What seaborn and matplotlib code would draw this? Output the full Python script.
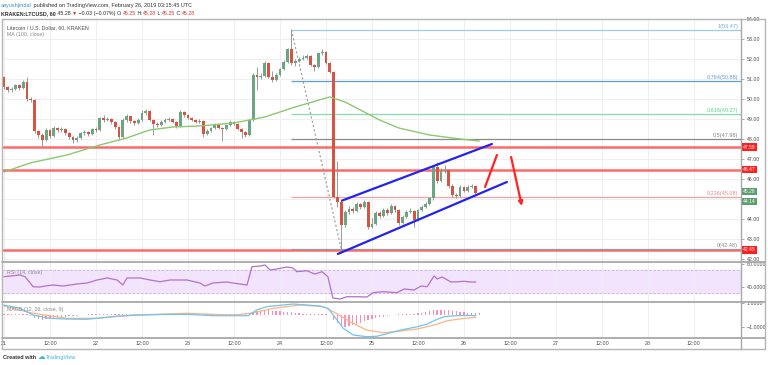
import numpy as np
import pandas as pd
import matplotlib
matplotlib.use("Agg")
import matplotlib.pyplot as plt
import seaborn as sns

# ==========================================================
# Data (hourly candles from Feb 21 00:00)
# ==========================================================

first_open = 51.10

closes = [
    50.60, 50.45, 50.50, 50.70, 50.55, 50.85, 50.00, 49.95, 48.40, 48.20,
    47.95, 48.45, 48.15, 48.55, 48.45, 48.50, 48.30, 48.10, 47.95, 48.05,
    48.30, 48.35, 48.25, 48.50, 48.45, 49.05, 48.95, 49.00, 48.85, 48.60,
    48.10, 48.95, 49.15, 48.90, 48.80, 48.95, 49.30, 49.40, 48.95, 48.75,
    48.70, 48.85, 48.95, 49.00, 48.85, 48.65, 49.35, 49.20, 49.05, 48.95,
    48.85, 48.90, 48.25, 48.40, 48.55, 48.70, 48.55, 48.50, 48.70, 48.85,
    48.75, 48.50, 48.35, 48.20, 48.95, 51.20, 51.10, 51.15, 51.80, 51.10,
    50.95, 51.20, 51.50, 51.85, 52.50, 51.80, 51.90, 52.00, 52.05, 52.15,
    51.70, 51.60, 52.30, 52.35, 51.80, 51.35, 45.10, 44.85, 43.70, 44.35,
    44.50, 44.40, 44.75, 44.60, 44.85, 43.60, 43.75, 44.30, 44.15, 44.45,
    44.30, 44.65, 44.45, 43.80, 44.10, 44.35, 44.40, 43.95, 44.45, 44.60,
    44.75, 45.05, 46.60, 45.90, 46.40, 46.45, 45.65, 45.20, 45.15, 45.60,
    45.40, 45.60, 45.65, 45.30, 45.28,
]

highs = [
    51.15, 50.65, 50.60, 50.75, 50.75, 50.95, 51.10, 50.10, 50.00, 48.45,
    48.30, 48.55, 48.50, 48.65, 48.60, 48.60, 48.55, 48.35, 48.15, 48.15,
    48.35, 48.45, 48.40, 48.55, 48.60, 49.10, 49.20, 49.10, 49.05, 48.90,
    48.65, 49.05, 49.25, 49.15, 48.95, 49.05, 49.45, 49.50, 49.45, 49.00,
    48.85, 48.95, 49.05, 49.10, 49.05, 48.90, 49.45, 49.40, 49.25, 49.10,
    49.00, 49.00, 48.95, 48.50, 48.60, 48.80, 48.75, 48.60, 48.75, 48.95,
    48.90, 48.80, 48.55, 48.40, 49.00, 51.30, 51.60, 51.30, 51.90, 51.85,
    51.40, 51.30, 51.55, 51.95, 52.55, 53.47, 52.00, 52.10, 52.20, 52.25,
    52.20, 51.75, 52.35, 52.50, 52.40, 51.85, 51.40, 46.90, 44.95, 44.45,
    44.65, 44.60, 44.85, 44.80, 44.95, 44.90, 44.05, 44.40, 44.40, 44.55,
    44.55, 44.75, 44.70, 44.50, 44.20, 44.45, 44.55, 44.45, 44.50, 44.70,
    44.85, 45.10, 46.70, 46.85, 46.55, 46.70, 46.50, 45.75, 45.30, 45.70,
    45.65, 45.70, 45.75, 45.70, 45.30,
]

lows = [
    50.50, 50.35, 50.35, 50.45, 50.45, 50.50, 49.90, 49.85, 48.30, 48.05,
    47.65, 47.90, 48.05, 48.10, 48.35, 48.35, 48.20, 48.00, 47.80, 47.85,
    48.00, 48.20, 48.15, 48.20, 48.35, 48.40, 48.85, 48.90, 48.75, 48.50,
    47.95, 48.05, 48.85, 48.80, 48.70, 48.75, 48.90, 49.20, 48.90, 48.20,
    48.60, 48.65, 48.80, 48.90, 48.80, 48.55, 48.60, 49.10, 49.00, 48.90,
    48.80, 48.80, 48.10, 48.20, 48.35, 48.50, 48.50, 47.90, 48.45, 48.65,
    48.70, 48.45, 48.05, 48.10, 48.15, 48.90, 50.45, 51.00, 51.10, 51.05,
    50.85, 50.90, 51.15, 51.45, 51.80, 51.70, 51.65, 51.85, 51.95, 52.00,
    51.65, 51.40, 51.55, 52.20, 51.75, 51.30, 45.05, 44.60, 42.48, 43.60,
    44.25, 44.30, 44.35, 44.50, 44.55, 43.50, 43.55, 43.70, 44.05, 44.10,
    44.20, 44.25, 44.35, 43.70, 43.75, 44.05, 44.30, 43.60, 43.90, 44.40,
    44.55, 44.70, 44.95, 45.80, 45.85, 46.30, 45.55, 45.10, 45.05, 45.10,
    45.35, 45.35, 45.55, 45.25, 45.25,
]

ma_hours = [0, 6.8, 16.4, 25, 32, 38, 44, 51, 60, 68, 76, 84, 85, 89, 93,
            98, 103, 111, 119, 124]
ma_values = [46.35, 46.80, 47.20, 47.70, 48.05, 48.45, 48.60, 48.65, 48.80,
             49.10, 49.60, 50.05, 50.10, 49.85, 49.45, 48.95, 48.55, 48.20,
             48.00, 47.90]

rsi_hours = [0, 4.2, 5.5, 7.6, 9.4, 10.7, 12.8, 15.4, 19, 21.7, 24.3, 26.9,
             29.5, 31, 32.1, 35.5, 38.1, 40.7, 43.3, 47.7, 51.1, 52.4, 54.5,
             58.2, 59.7, 63.4, 64.7, 66.8, 68.1, 69.4, 71.2, 73.8, 75.4, 76.4,
             79, 81.1, 83, 84.5, 85.8, 87.7, 89.5, 92.1, 94.7, 96.3, 98.9,
             102.5, 104.4, 107, 108.8, 110.4, 112.2, 113, 114.3, 116.6, 118.7,
             120, 121.8, 123.1]
rsi_values = [57.9, 60.9, 57.9, 40.5, 40.0, 41.7, 43.5, 41.7, 45.2, 47.0,
              52.2, 55.7, 52.2, 43.5, 55.7, 55.7, 52.2, 49.2, 52.2, 52.2,
              47.0, 41.7, 47.0, 48.7, 47.0, 43.5, 75.3, 76.5, 78.3, 69.6,
              71.3, 74.8, 73.0, 66.6, 68.3, 62.6, 66.6, 57.9, 20.9, 19.1,
              23.1, 23.1, 22.6, 30.1, 31.8, 30.1, 36.5, 34.8, 41.7, 40.5,
              59.1, 53.9, 57.4, 48.7, 49.2, 50.0, 48.7, 48.7]

macd_hours = [0, 4.2, 7.6, 12, 16.3, 21.6, 24.2, 29.4, 35.5, 42.4, 47.7,
              54.6, 59.8, 63.7, 65.9, 68.5, 72.8, 75.5, 79, 82.4, 84.6, 85.9,
              88.5, 91.1, 94.6, 97.2, 99.1, 103.5, 107.8, 110.4, 113, 114.8,
              116.5, 120, 123.1]
macd_values = [0.81, 0.53, -0.03, -0.30, -0.36, -0.38, -0.30, -0.12, -0.03,
               0.03, 0.03, -0.08, -0.08, -0.08, 0.39, 0.67, 0.81, 0.89, 0.81,
               0.73, 0.53, -0.03, -1.13, -1.69, -1.83, -1.80, -1.65, -1.28,
               -1.00, -0.78, -0.38, -0.17, -0.11, -0.06, -0.08]

signal_hours = [0, 7.6, 16.3, 24.2, 33.7, 47.7, 59.8, 64.2, 70.2, 77.2, 83.3,
                85.9, 90.3, 94.6, 99.1, 103.5, 107.8, 112.2, 115.7, 120, 123.1]
signal_values = [0.73, 0.12, -0.30, -0.30, -0.03, 0.12, -0.03, 0.12, 0.53,
                 0.81, 0.67, 0.25, -0.58, -1.28, -1.50, -1.36, -1.19, -0.86,
                 -0.50, -0.30, -0.22]

hist_values = [
    0.05, 0.05, 0.04, 0.04, 0.03, 0.03, 0.02, -0.10, -0.25, -0.35,
    -0.40, -0.38, -0.32, -0.28, -0.22, -0.18, -0.15, -0.12, -0.10, -0.08,
    -0.05, -0.03, 0.02, 0.03, 0.04, 0.04, 0.03, 0.03, 0.02, 0.02,
    0.02, 0.02, 0.02, 0.02, 0.02, 0.02, 0.02, 0.02, 0.02, 0.02,
    0.02, 0.02, 0.02, 0.02, 0.02, 0.02, 0.02, 0.02, 0.02, 0.02,
    0.02, 0.02, 0.02, 0.02, 0.02, 0.02, 0.02, 0.02, 0.02, 0.02,
    0.02, 0.02, 0.02, 0.02, 0.05, 0.20, 0.30, 0.35, 0.40, 0.38,
    0.35, 0.30, 0.28, 0.25, 0.22, 0.20, 0.15, 0.12, 0.10, 0.08,
    0.05, 0.03, 0.03, 0.02, 0.02, -0.05, -0.40, -0.70, -0.95, -1.00,
    -0.95, -0.85, -0.75, -0.65, -0.55, -0.45, -0.38, -0.30, -0.22, -0.15,
    -0.10, -0.06, -0.03, 0.02, 0.03, 0.05, 0.08, 0.10, 0.12, 0.15,
    0.20, 0.28, 0.38, 0.42, 0.42, 0.40, 0.36, 0.32, 0.27, 0.23,
    0.20, 0.17, 0.15, 0.13, 0.12,
]

fib_levels = [1, 0.764, 0.618, 0.5, 0.236, 0]
fib_prices = [53.47, 50.88, 49.27, 47.98, 45.08, 42.48]
fib_colors = ["#9fcbe6", "#5f9fd6", "#86dcae", "#8a8a8a", "#f2a2a2", "#9a9a9a"]
fib_text_colors = ["#6fb0da", "#5f9fd6", "#5fcf93", "#8a7f8a", "#e98888", "#8a8a8a"]

sr_levels = [47.59, 46.47, 42.45]

price_ticks = [42, 43, 44, 45, 46, 47, 48, 49, 50, 51, 52, 53, 54]
hidden_price_ticks = [45]  # sits under the last-price tags
time_ticks = [0, 12, 24, 36, 48, 60, 72, 84, 96, 108, 120, 132, 144, 156, 168, 180]
time_labels = ["21", "12:00", "22", "12:00", "23", "12:00", "24", "12:00",
               "25", "12:00", "26", "12:00", "27", "12:00", "28", "12:00"]

# channel, swing and arrow points (hour, price)
upper_channel = ([88.2, 127.3], [44.92, 47.75])
lower_channel = ([87.1, 131.2], [42.25, 45.85])
fib_swing = ([75, 88], [53.47, 42.48])
arrow_up = ([125.5, 128.6], [45.6, 47.2])
arrow_down = ((132.3, 47.1), (135.1, 44.65))

# ==========================================================
# Style
# ==========================================================

sns.set_theme(style="white")
plt.rcParams["font.family"] = ["Liberation Sans", "DejaVu Sans"]

GREEN = "#6ba583"
RED = "#d75442"
GRID = "#efefef"
TXT = "#4d4d4d"
XMIN, XMAX = -0.26, 192.28

fig = plt.figure(figsize=(7.68, 3.65), dpi=100)
fig.patch.set_facecolor("white")

W, H = 768.0, 365.0


def px_axes(x0, y0, x1, y1):
    return fig.add_axes([x0 / W, 1 - y1 / H, (x1 - x0) / W, (y1 - y0) / H])


ax = px_axes(3, 19, 741, 262)
ax_rsi = px_axes(3, 262, 741, 302)
ax_macd = px_axes(3, 302, 741, 338)

for a in (ax, ax_rsi, ax_macd):
    a.set_xlim(XMIN, XMAX)
    for s in a.spines.values():
        s.set_visible(False)
    a.set_xticks(time_ticks)
    a.grid(True, axis="x", color=GRID, lw=0.7)
    a.yaxis.tick_right()
    a.tick_params(axis="y", which="both", length=2, width=0.5, color="#888888",
                  labelsize=3.8, labelcolor=TXT, pad=2)
    a.tick_params(axis="x", length=0, labelbottom=False)
    a.set_axisbelow(True)

# ==========================================================
# Main price panel
# ==========================================================

candles = pd.DataFrame({
    "hour": np.arange(len(closes)),
    "open": [first_open] + closes[:-1],
    "close": closes,
    "high": highs,
    "low": lows,
})
up = candles["close"] >= candles["open"]
body_low = candles[["open", "close"]].min(axis=1)
body_h = (candles["close"] - candles["open"]).abs().clip(lower=0.03)

ax.set_ylim(41.85, 54.0)
ax.set_yticks(price_ticks)
ax.set_yticklabels(["" if p in hidden_price_ticks else f"{p:.2f}" for p in price_ticks])
ax.grid(True, axis="y", color=GRID, lw=0.7)

ax.vlines(candles["hour"], candles["low"], candles["high"], color="#8a8a8a", lw=0.6, zorder=3)
ax.bar(candles["hour"], body_h, bottom=body_low, width=0.72,
       color=np.where(up, GREEN, RED), lw=0, zorder=4)

ma_df = pd.DataFrame({"hour": ma_hours, "ma": ma_values})
sns.lineplot(data=ma_df, x="hour", y="ma", ax=ax, color="#8cc870", lw=1.0, zorder=5)

# support / resistance lines
for lvl in sr_levels:
    ax.axhline(lvl, color="#ff4f4f", lw=1.8, alpha=0.85, zorder=2)

# fibonacci retracement
for lvl, price, col, tcol in zip(fib_levels, fib_prices, fib_colors, fib_text_colors):
    ax.hlines(price, fib_swing[0][0], XMAX, color=col, lw=0.9, zorder=2)
    ax.text(0.996, price + 0.05, f"{lvl}({price:.2f})", transform=ax.get_yaxis_transform(),
            ha="right", va="bottom", fontsize=4.0, color=tcol)
ax.plot(fib_swing[0], fib_swing[1], color="#9a9a9a", lw=0.8, ls=(0, (2, 2)), zorder=3)

# channel
ax.plot(*upper_channel, color="#2323f0", lw=1.6, zorder=6)
ax.plot(*lower_channel, color="#2323f0", lw=1.6, zorder=6)

# arrows
ax.plot(*arrow_up, color="#ff2424", lw=1.6, zorder=6)
ax.annotate("", xy=arrow_down[1], xytext=arrow_down[0],
            arrowprops=dict(arrowstyle="-|>", color="#ff2424", lw=1.6,
                            mutation_scale=6, shrinkA=0, shrinkB=0), zorder=6)

ax.set_xlabel("")
ax.set_ylabel("")

# price tags on the scale
tag_style = dict(transform=ax.get_yaxis_transform(), ha="left", va="center",
                 fontsize=3.6, color="white", clip_on=False, zorder=20)
for lvl in sr_levels:
    ax.text(1.003, lvl, f"{lvl:.2f}", bbox=dict(boxstyle="square,pad=0.25",
            fc="#ff1f1f", ec="none"), **tag_style)
ax.text(1.003, 45.36, "45.28", bbox=dict(boxstyle="square,pad=0.2", fc="#5d9c6c", ec="none"), **tag_style)
ax.text(1.003, 44.86, "44:14", bbox=dict(boxstyle="square,pad=0.2", fc="#5d9c6c", ec="none"), **tag_style)

ax.text(0.006, 0.975, "Litecoin / U.S. Dollar, 60, KRAKEN", transform=ax.transAxes,
        fontsize=3.8, color=TXT, va="top")
ax.text(0.006, 0.945, "MA (100, close)", transform=ax.transAxes,
        fontsize=3.8, color="#8a8a8a", va="top")

# ==========================================================
# RSI panel
# ==========================================================

ax_rsi.set_ylim(13.9, 83.5)
ax_rsi.axhspan(30, 70, color="#f2e4fc", zorder=0)
ax_rsi.axhline(70, color="#c7b5d6", lw=0.6, ls=(0, (3, 2)))
ax_rsi.axhline(30, color="#c7b5d6", lw=0.6, ls=(0, (3, 2)))
rsi_df = pd.DataFrame({"hour": rsi_hours, "rsi": rsi_values})
sns.lineplot(data=rsi_df, x="hour", y="rsi", ax=ax_rsi, color="#b46fd0", lw=0.9)
ax_rsi.set_yticks([40, 80])
ax_rsi.set_yticklabels(["40.0000", "80.0000"])
ax_rsi.set_xlabel("")
ax_rsi.set_ylabel("")
ax_rsi.text(0.006, 0.8, "RSI (14, close)", transform=ax_rsi.transAxes,
            fontsize=3.8, color="#8a8a8a", va="top")

# ==========================================================
# MACD panel
# ==========================================================

ax_macd.set_ylim(-1.94, 1.06)
ax_macd.bar(np.arange(len(hist_values)), hist_values, width=0.35, color="#f78fb8", lw=0)
macd_df = pd.DataFrame({"hour": macd_hours, "macd": macd_values})
sig_df = pd.DataFrame({"hour": signal_hours, "signal": signal_values})
sns.lineplot(data=sig_df, x="hour", y="signal", ax=ax_macd, color="#ffb381", lw=0.9)
sns.lineplot(data=macd_df, x="hour", y="macd", ax=ax_macd, color="#6cc6f4", lw=0.9)
ax_macd.set_yticks([1, -1])
ax_macd.set_yticklabels(["1.0000", "\u22121.0000"])
ax_macd.set_xlabel("")
ax_macd.set_ylabel("")
ax_macd.tick_params(axis="x", labelbottom=True, labelsize=3.9, labelcolor=TXT, pad=2.5)
ax_macd.set_xticklabels(time_labels)
ax_macd.text(0.006, 0.85, "MACD (12, 26, close, 9)", transform=ax_macd.transAxes,
             fontsize=3.8, color="#8a8a8a", va="top")

# ==========================================================
# Frame, header, footer (pixel overlay)
# ==========================================================

ov = fig.add_axes([0, 0, 1, 1], zorder=10)
ov.set_xlim(0, W)
ov.set_ylim(H, 0)
ov.axis("off")
ov.patch.set_alpha(0)

frame = "#b5b5b5"
ov.plot([2, 765, 765, 2, 2], [19, 19, 349, 349, 19], color=frame, lw=1.0)
for yy in (262, 302, 338):
    ov.plot([2, 765], [yy, yy], color="#a8a8a8", lw=1.3)
ov.plot([741, 741], [19, 349], color="#a8a8a8", lw=1.0)

renderer = fig.canvas.get_renderer()


def text_run(x, y, parts, size):
    # write pieces one after another on one baseline
    for txt, col, weight in parts:
        t = ov.text(x, y, txt, color=col, fontsize=size, fontweight=weight,
                    va="baseline", ha="left")
        x += t.get_window_extent(renderer).width
    return x


DARK = "#2a2a2a"
HRED = "#e0312b"
text_run(1, 7, [("aayushjindal", "#3c8fd3", "normal"),
                (" published on TradingView.com, February 26, 2019 03:15:45 UTC", "#333333", "normal")], 4.0)
text_run(1, 15, [("KRAKEN:LTCUSD, 60", DARK, "bold"), (" 45.28 ", DARK, "normal"),
                 ("\u25bc", HRED, "normal"), (" \u22120.03 (\u22120.07%) ", DARK, "normal"),
                 ("O:", DARK, "normal"), ("45.25", HRED, "normal"),
                 (" H:", DARK, "normal"), ("45.28", HRED, "normal"),
                 (" L:", DARK, "normal"), ("45.25", HRED, "normal"),
                 (" C:", DARK, "normal"), ("45.28", HRED, "normal")], 3.8)

xend = text_run(3, 359, [("Created with ", "#333333", "bold")], 4.0)
t = ov.text(xend, 359, "\u2601", color="#3cb4e6", fontsize=5.5, va="baseline",
            family="DejaVu Sans")
xend += t.get_window_extent(renderer).width + 1
text_run(xend, 359, [("TradingView", "#3cb4e6", "normal")], 4.0)

plt.savefig("out.png", dpi=100)
plt.close()
